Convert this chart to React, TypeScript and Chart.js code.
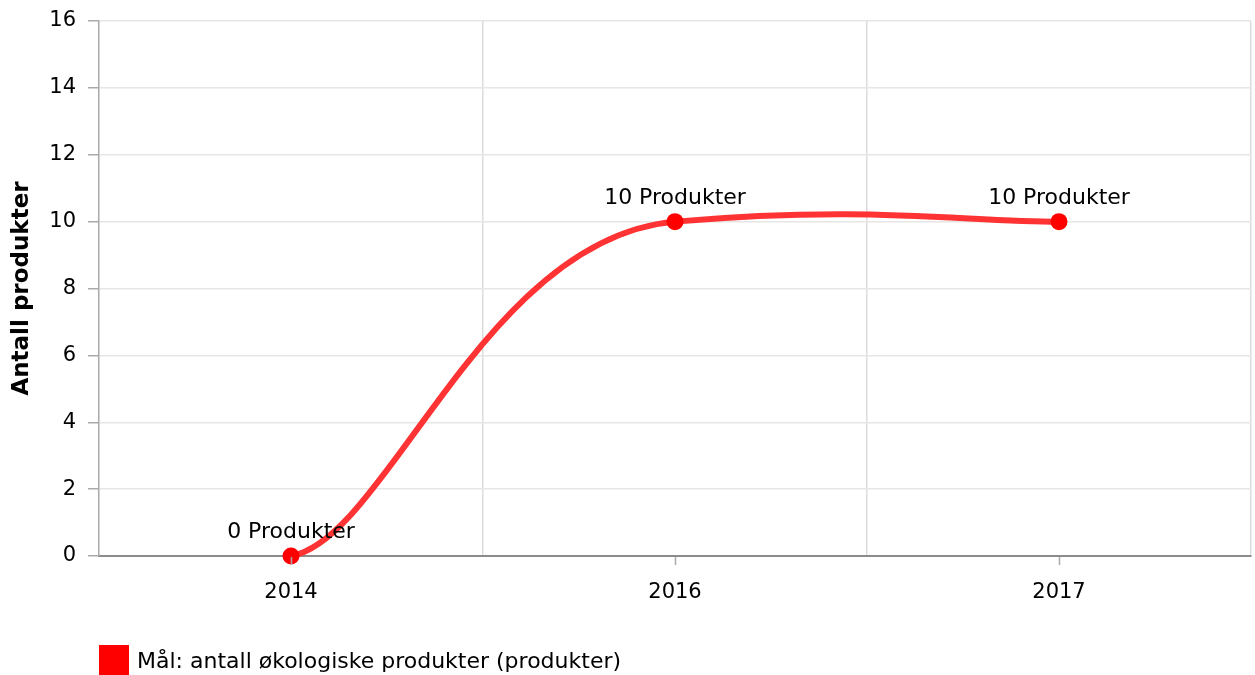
import { useEffect, useRef } from 'react';
import { Chart, registerables } from 'chart.js';

Chart.register(...registerables);

// ---- data ----
const categories = ['2014', '2016', '2017'];
const values = [0, 10, 10];
const seriesName = 'Mål: antall økologiske produkter (produkter)';
const labelSuffix = ' Produkter';
const yTitle = 'Antall produkter';
const yMin = 0;
const yMax = 16;
const yStep = 2;

// ---- style ----
const FONT = '"DejaVu Sans", Verdana, sans-serif';
const LINE_COLOR = '#ff3333';
const POINT_COLOR = '#ff0000';
const LEGEND_COLOR = '#ff0000';
const BEZIER_X = 4;
const BEZIER_Y = 20;

const smoothPlugin = {
  id: 'smoothCurve',
  beforeDatasetsDraw(chart: any) {
    chart.data.datasets.forEach((_ds: any, di: number) => {
      const meta = chart.getDatasetMeta(di);
      const line: any = meta.dataset;
      const pts: any[] = meta.data;
      if (!line || pts.length < 2) return;
      if (typeof line.updateControlPoints === 'function') {
        line.updateControlPoints(chart.chartArea, 'x');
      }
      const n = pts.length;
      for (let i = 0; i < n; i++) {
        const prev = pts[Math.max(0, i - 1)];
        const next = pts[Math.min(n - 1, i + 1)];
        const dx = (next.x - prev.x) / BEZIER_X;
        const dy = (next.y - prev.y) / BEZIER_Y;
        pts[i].cp1x = pts[i].x - dx;
        pts[i].cp1y = pts[i].y - dy;
        pts[i].cp2x = pts[i].x + dx;
        pts[i].cp2y = pts[i].y + dy;
      }
      line._path = undefined;
    });
  },
};

const decorPlugin = {
  id: 'decor',
  afterDatasetsDraw(chart: any) {
    const ctx = chart.ctx;
    const meta = chart.getDatasetMeta(0);
    ctx.save();
    ctx.font = `22px ${FONT}`;
    ctx.fillStyle = '#000';
    ctx.textAlign = 'center';
    ctx.textBaseline = 'alphabetic';
    meta.data.forEach((pt: any, i: number) => {
      ctx.fillText(`${values[i]}${labelSuffix}`, pt.x, pt.y - 18);
    });
    ctx.restore();
  },
  afterDraw(chart: any) {
    const ctx = chart.ctx;
    const area = chart.chartArea;
    const xs = chart.scales.x;
    ctx.save();
    // category tick marks at centres
    ctx.strokeStyle = '#aaaaaa';
    ctx.lineWidth = 1.5;
    categories.forEach((_c, i) => {
      const x = Math.round(xs.getPixelForValue(i)) + 0.5;
      ctx.beginPath();
      ctx.moveTo(x, area.bottom + 1);
      ctx.lineTo(x, area.bottom + 9);
      ctx.stroke();
    });
    // legend
    const lx = area.left;
    ctx.fillStyle = LEGEND_COLOR;
    ctx.fillRect(lx, 645, 30, 30);
    ctx.fillStyle = '#000';
    ctx.font = `22px ${FONT}`;
    ctx.textAlign = 'left';
    ctx.textBaseline = 'alphabetic';
    ctx.fillText(seriesName, lx + 38, 668);
    ctx.restore();
  },
};

const zeroPad = (s: any) => {
  s.paddingTop = 0;
  s.paddingBottom = 0;
  s.paddingLeft = 0;
  s.paddingRight = 0;
};

export default function App() {
  const ref = useRef<HTMLCanvasElement | null>(null);
  useEffect(() => {
    document.body.style.margin = '0';
    const canvas = ref.current;
    if (!canvas) return;
    Chart.defaults.font.family = FONT;
    const chart = new Chart(canvas, {
      type: 'line',
      data: {
        labels: categories,
        datasets: [
          {
            label: seriesName,
            data: values,
            borderColor: LINE_COLOR,
            borderWidth: 6,
            tension: 0.4,
            fill: false,
            clip: false,
            pointRadius: 8.5,
            pointBackgroundColor: POINT_COLOR,
            pointBorderWidth: 0,
            pointBorderColor: POINT_COLOR,
          },
        ],
      },
      options: {
        responsive: false,
        animation: false,
        devicePixelRatio: 1,
        layout: { autoPadding: false, padding: { top: 21, right: 4, bottom: 0, left: 0 } },
        plugins: { legend: { display: false }, tooltip: { enabled: false } },
        scales: {
          x: {
            type: 'category',
            offset: true,
            grid: {
              offset: true,
              drawTicks: false,
              lineWidth: 1.5,
              color: (c: any) => (c.index === 0 ? 'rgba(0,0,0,0)' : '#dcdcdc'),
            },
            border: { color: '#8c8c8c', width: 2 },
            ticks: { color: '#000', font: { size: 21, family: FONT }, padding: 24, maxRotation: 0 },
            afterFit: (s: any) => {
              s.height = 119;
              zeroPad(s);
            },
          },
          y: {
            min: yMin,
            max: yMax,
            ticks: { stepSize: yStep, color: '#000', font: { size: 21, family: FONT }, padding: 12 },
            grid: {
              lineWidth: 1.5,
              tickLength: 11,
              tickColor: '#aaaaaa',
              tickWidth: 1.5,
              color: (c: any) => (c.tick && c.tick.value === yMin ? 'rgba(0,0,0,0)' : '#e6e6e6'),
            },
            border: { color: '#aaaaaa', width: 1.5 },
            title: {
              display: true,
              text: yTitle,
              color: '#000',
              font: { size: 23, weight: 'bold', family: FONT, lineHeight: 1.9 },
              padding: 0,
            },
            afterFit: (s: any) => {
              s.width = 99;
              zeroPad(s);
            },
          },
        },
      },
      plugins: [smoothPlugin, decorPlugin],
    } as any);
    return () => chart.destroy();
  }, []);
  return (
    <div style={{ width: 1255, height: 675 }}>
      <canvas ref={ref} width={1255} height={675} style={{ display: 'block' }} />
    </div>
  );
}
